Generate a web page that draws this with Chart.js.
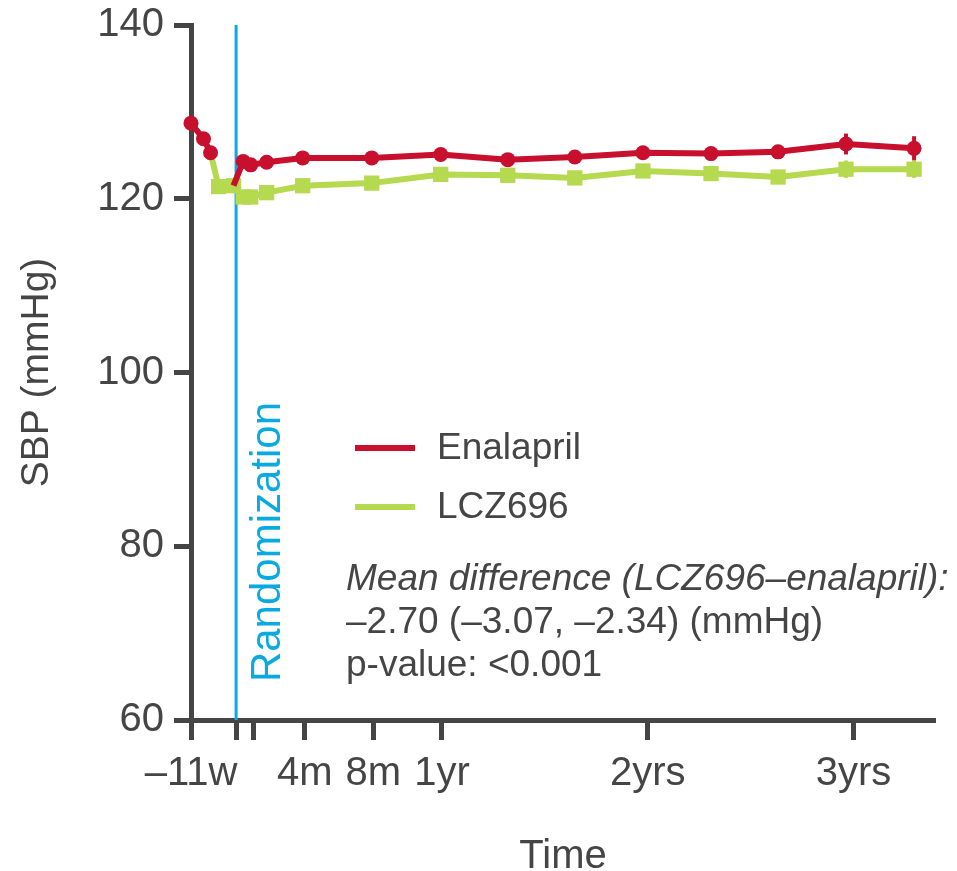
<!DOCTYPE html>
<html>
<head>
<meta charset="utf-8">
<script src="https://cdn.jsdelivr.net/npm/chart.js@4.4.1/dist/chart.umd.min.js"></script>
<style>
  html, body { margin: 0; padding: 0; background: #fff; }
  #wrap { width: 957px; height: 871px; position: relative; }
</style>
</head>
<body>
<div id="wrap"><canvas id="sbp-chart"></canvas></div>
<script>
// x values are months from randomization
const enalaprilRunInMonths = [-2.63, -1.90, -1.49];
const enalaprilRunInSbp = [128.7, 126.9, 125.3];
const lczRunInMonths = [-1.02, -0.15];
const lczRunInSbp = [121.4, 121.5];

const visitMonths = [0.41, 0.85, 1.78, 3.88, 7.91, 11.93, 15.84, 19.75, 23.72, 27.69, 31.6, 35.56, 39.53];
const enalaprilSbp = [124.3, 123.9, 124.2, 124.7, 124.7, 125.1, 124.5, 124.8, 125.3, 125.2, 125.4, 126.3, 125.8];
const lczSbp = [120.2, 120.2, 120.7, 121.5, 121.8, 122.8, 122.7, 122.4, 123.2, 122.9, 122.5, 123.4, 123.4];
const enalaprilErr = [0.3, 0.3, 0.3, 0.3, 0.3, 0.3, 0.4, 0.4, 0.5, 0.6, 0.8, 1.2, 1.4];
const lczErr = [0.3, 0.3, 0.3, 0.3, 0.3, 0.3, 0.4, 0.4, 0.5, 0.6, 0.8, 1.0, 1.0];

const xTickMonths = [-2.63, 0, 1, 4, 8, 12, 24, 36];
const xTickLabels = ['\u201311w', '', '', '4m', '8m', '1yr', '2yrs', '3yrs'];

const RED = '#c8102e';
const GREEN = '#b5d94f';
const BLUE = '#09a9e1';
const GREY = '#454545';
const FONT = '"Liberation Sans", Arial, Helvetica, sans-serif';

// enalapril line: run-in, gap, then picks up from the last LCZ696 run-in point
const enalaprilPoints = enalaprilRunInMonths.map((m, i) => ({x: m, y: enalaprilRunInSbp[i], r: 7.5}))
    .concat([{x: -0.6, y: null, r: 0}])
    .concat([{x: lczRunInMonths[1], y: lczRunInSbp[1], r: 0}])
    .concat(visitMonths.map((m, i) => ({x: m, y: enalaprilSbp[i], r: 7.5, e: enalaprilErr[i]})));

// LCZ696 line starts at the last enalapril run-in point
const lczPoints = [{x: enalaprilRunInMonths[2], y: enalaprilRunInSbp[2], r: 0}]
    .concat(lczRunInMonths.map((m, i) => ({x: m, y: lczRunInSbp[i], r: 10.8})))
    .concat(visitMonths.map((m, i) => ({x: m, y: lczSbp[i], r: 10.8, e: lczErr[i]})));

const pointSize = (ctx) => (ctx.raw && ctx.raw.r) || 0;

const extras = {
    id: 'extras',
    beforeDatasetsDraw(chart) {
        const {ctx, chartArea, scales: {x, y}} = chart;
        const rx = x.getPixelForValue(0);
        ctx.save();
        ctx.strokeStyle = BLUE;
        ctx.lineWidth = 3;
        ctx.beginPath();
        ctx.moveTo(rx, chartArea.top);
        ctx.lineTo(rx, chartArea.bottom);
        ctx.stroke();

        // error bars
        chart.data.datasets.forEach((ds) => {
            ctx.strokeStyle = ds.borderColor;
            ctx.lineWidth = 4;
            ds.data.forEach((p) => {
                if (!p.e || p.y == null) return;
                const px = x.getPixelForValue(p.x);
                ctx.beginPath();
                ctx.moveTo(px, y.getPixelForValue(p.y - p.e));
                ctx.lineTo(px, y.getPixelForValue(p.y + p.e));
                ctx.stroke();
            });
        });
        ctx.restore();
    },
    afterDraw(chart) {
        const {ctx, scales: {x}} = chart;
        ctx.save();
        // Randomization label
        ctx.translate(x.getPixelForValue(0) + 32, 542);
        ctx.rotate(-Math.PI / 2);
        ctx.fillStyle = BLUE;
        ctx.font = '42px ' + FONT;
        ctx.textAlign = 'center';
        ctx.textBaseline = 'middle';
        ctx.fillText('Randomization', 0, 0);
        ctx.restore();

        ctx.save();
        // legend
        const items = [['Enalapril', RED, 448], ['LCZ696', GREEN, 507]];
        ctx.font = '37px ' + FONT;
        ctx.textBaseline = 'middle';
        items.forEach(([label, col, yy]) => {
            ctx.strokeStyle = col;
            ctx.lineWidth = 6;
            ctx.beginPath();
            ctx.moveTo(355, yy);
            ctx.lineTo(415, yy);
            ctx.stroke();
            ctx.fillStyle = GREY;
            ctx.fillText(label, 437, yy + 1);
        });

        // mean difference note
        ctx.textBaseline = 'alphabetic';
        ctx.fillStyle = GREY;
        ctx.font = 'italic 37px ' + FONT;
        ctx.fillText('Mean difference (LCZ696\u2013enalapril):', 346, 590);
        ctx.font = '37px ' + FONT;
        ctx.fillText('\u20132.70 (\u20133.07, \u20132.34) (mmHg)', 346, 633);
        ctx.fillText('p-value: <0.001', 346, 676);
        ctx.restore();
    }
};

new Chart(document.getElementById('sbp-chart'), {
    type: 'line',
    data: {
        datasets: [
            {
                label: 'Enalapril',
                data: enalaprilPoints,
                borderColor: RED,
                backgroundColor: RED,
                borderWidth: 6,
                pointRadius: pointSize,
                pointStyle: 'circle',
                pointBorderWidth: 0,
                spanGaps: false,
                clip: false,
                tension: 0
            },
            {
                label: 'LCZ696',
                data: lczPoints,
                borderColor: GREEN,
                backgroundColor: GREEN,
                borderWidth: 6,
                pointRadius: pointSize,
                pointStyle: 'rect',
                pointBorderWidth: 0,
                clip: false,
                tension: 0
            }
        ]
    },
    options: {
        responsive: true,
        maintainAspectRatio: false,
        animation: false,
        events: [],
        layout: {padding: {top: 25, right: 22, left: 0, bottom: 0}},
        plugins: {legend: {display: false}, tooltip: {enabled: false}},
        scales: {
            x: {
                type: 'linear',
                min: -2.63,
                max: 40.75,
                afterBuildTicks: (s) => { s.ticks = xTickMonths.map(v => ({value: v})); },
                afterFit: (s) => { s.height = 151; },
                border: {display: true, color: GREY, width: 5},
                grid: {drawOnChartArea: false, drawTicks: true, tickLength: 20, tickWidth: 5, tickColor: GREY},
                ticks: {
                    autoSkip: false,
                    maxRotation: 0,
                    color: GREY,
                    padding: 10,
                    font: {family: FONT, size: 40},
                    callback: (v, i) => xTickLabels[i]
                },
                title: {
                    display: true,
                    text: 'Time',
                    color: GREY,
                    font: {family: FONT, size: 40, lineHeight: 0.7},
                    padding: {bottom: 0}
                }
            },
            y: {
                min: 60,
                max: 140,
                afterFit: (s) => { s.width = 191; },
                border: {display: true, color: GREY, width: 5},
                grid: {drawOnChartArea: false, drawTicks: true, tickLength: 17, tickWidth: 5, tickColor: GREY},
                ticks: {
                    stepSize: 20,
                    color: GREY,
                    padding: 10,
                    font: {family: FONT, size: 40, lineHeight: 0.5}
                },
                title: {
                    display: true,
                    text: 'SBP (mmHg)',
                    color: GREY,
                    font: {family: FONT, size: 39},
                    padding: {top: 14}
                }
            }
        }
    },
    plugins: [extras]
});
</script>
</body>
</html>
